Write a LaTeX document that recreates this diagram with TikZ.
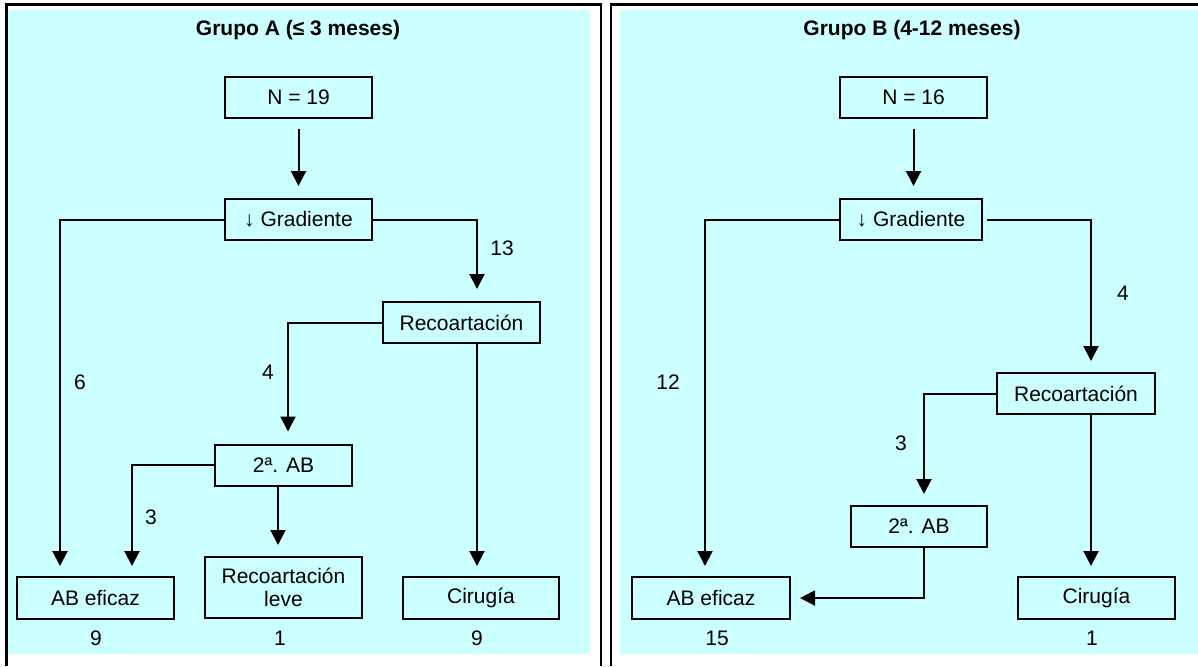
\documentclass[tikz,border=0pt]{standalone}
\usepackage{fontspec}
\setmainfont{Liberation Sans}
\usepackage{xcolor}
\definecolor{cPanel}{HTML}{CCFFFF}
\usetikzlibrary{arrows.meta}
\tikzset{
  node-box/.style={draw=black,line width=1pt,align=center,inner sep=2pt,
    minimum height=20.5pt},
  node-title/.style={font=\fontsize{10.5}{12}\selectfont\bfseries},
  node-num/.style={inner sep=0pt},
  panel-fill/.style={fill=cPanel},
  panel-frame/.style={draw=black,line width=1.2pt},
  arrow/.style={-{Triangle[length=7.5pt,width=7.5pt]},line width=1pt,draw=black},
}
\begin{document}
\begin{tikzpicture}[x=0.5pt,y=-0.5pt,every node/.style={font=\fontsize{10.5}{11.5}\selectfont}]
  \useasboundingbox (0,0) rectangle (1198,666);
  % paneles
  \fill[panel-fill] (8,10) rectangle (590,654);
  \fill[panel-fill] (620,10) rectangle (1198,654);
  \draw[panel-frame] (6.5,666) -- (6.5,4.5) -- (601,4.5) -- (601,666);
  \draw[panel-frame] (611,666) -- (611,4.5) -- (1198,4.5);

  % Grupo A
  \node[node-title] (titleA) at (298,30) {Grupo A (≤ 3 meses)};
  \node[node-box,minimum width=73.5pt] (nA)    at (298.5,97)  {N = 19};
  \node[node-box,minimum width=73.5pt] (gradA) at (298.5,219.5) {↓ Gradiente};
  \node[node-box,minimum width=78.5pt] (recA)  at (461.5,322.5) {Recoartación};
  \node[node-box,minimum width=68.5pt] (abA)   at (283.5,465) {2ª. AB};
  \node[node-box,minimum width=78.5pt,minimum height=21pt] (efA) at (95.5,598) {AB eficaz};
  \node[node-box,minimum width=78.5pt,minimum height=30.5pt] (leveA) at (283.5,587.5) {Recoartación\\leve};
  \node[node-box,minimum width=78pt,minimum height=21pt] (cirA) at (481,598) {Cirugía};
  \draw[arrow,shorten <=5pt,shorten >=6pt] (nA) -- (gradA);
  \draw[arrow,shorten >=5pt] (gradA.west) -| ([xshift=-17.75pt]efA.north);
  \draw[arrow,shorten >=6pt] (gradA.east) -| ([xshift=7.75pt]recA.north);
  \draw[arrow,shorten >=6pt] (recA.west) -| ([xshift=2.25pt]abA.north);
  \draw[arrow,shorten >=5pt] ([xshift=7.75pt]recA.south) -- ([xshift=-2pt]cirA.north);
  \draw[arrow,shorten >=5pt] (abA.west) -| ([xshift=18.25pt]efA.north);
  \draw[arrow,shorten >=5.5pt] ([xshift=-2.75pt]abA.south) -- ([xshift=-2.75pt]leveA.north);
  \node[node-num] (n13A) at (502,248) {13};
  \node[node-num] (n6A)  at (80,382)  {6};
  \node[node-num] (n4A)  at (268,372) {4};
  \node[node-num] (n3A)  at (151,517) {3};
  \node[node-num] (totEfA)   at (96,638)  {9};
  \node[node-num] (totLeveA) at (280,638) {1};
  \node[node-num] (totCirA)  at (477,638) {9};

  % Grupo B
  \node[node-title] (titleB) at (912,30) {Grupo B (4-12 meses)};
  \node[node-box,minimum width=73.5pt] (nB)    at (913.5,97)  {N = 16};
  \node[node-box,minimum width=71pt]   (gradB) at (911,219.5) {↓ Gradiente};
  \node[node-box,minimum width=79pt]   (recB)  at (1076,393.5) {Recoartación};
  \node[node-box,minimum width=68pt]   (abB)   at (919,526.5) {2ª. AB};
  \node[node-box,minimum width=79pt,minimum height=21pt] (efB) at (711,598) {AB eficaz};
  \node[node-box,minimum width=78.5pt,minimum height=21pt] (cirB) at (1096.5,598) {Cirugía};
  \draw[arrow,shorten <=5pt,shorten >=6pt] (nB.south) -- (nB.south |- gradB.north);
  \draw[arrow,shorten >=5pt] (gradB.west) -| ([xshift=-3pt]efB.north);
  \draw[arrow,shorten <=2pt,shorten >=5.5pt] (gradB.east) -| ([xshift=7.5pt]recB.north);
  \draw[arrow,shorten >=5.5pt] (recB.west) -| ([xshift=2.5pt]abB.north);
  \draw[arrow,shorten >=5pt] ([xshift=7.5pt]recB.south) -- ([xshift=-2.75pt]cirB.north);
  \draw[arrow,shorten >=4.5pt] ([xshift=2.5pt]abB.south) |- (efB.east);
  \node[node-num] (n12B) at (668,382)  {12};
  \node[node-num] (n4B)  at (1123,293) {4};
  \node[node-num] (n3B)  at (901,443)  {3};
  \node[node-num] (totEfB)  at (717,638)  {15};
  \node[node-num] (totCirB) at (1092,638) {1};
\end{tikzpicture}
\end{document}
